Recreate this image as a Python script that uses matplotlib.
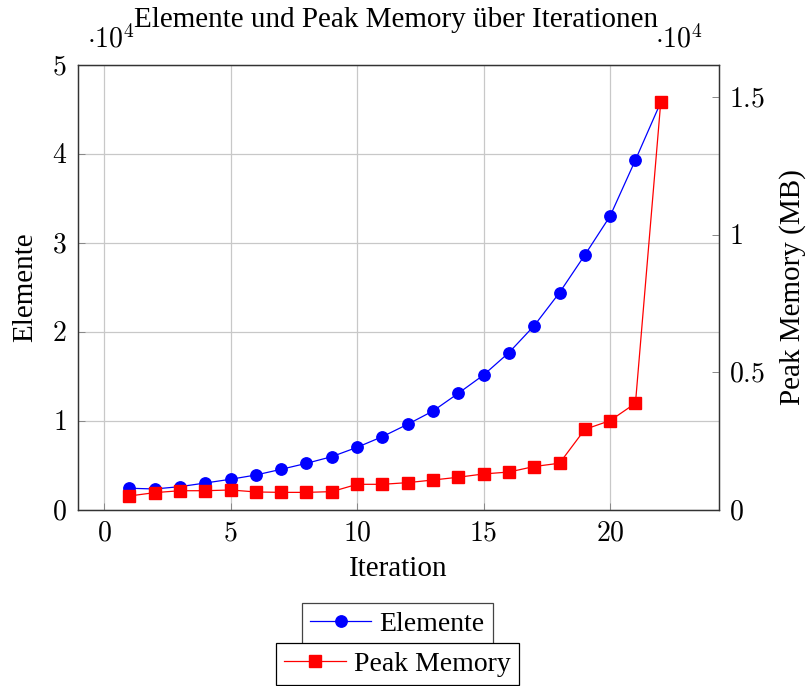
import matplotlib
matplotlib.use('Agg')
import matplotlib.pyplot as plt
from matplotlib.lines import Line2D
from matplotlib.ticker import FuncFormatter

plt.rcParams['font.family'] = ['Liberation Serif', 'DejaVu Serif']
plt.rcParams['mathtext.fontset'] = 'cm'

# data
iterations = list(range(1, 23))
elemente = [2440, 2360, 2620, 3030, 3450, 3930, 4570, 5240, 5990, 7040, 8240,
            9630, 11120, 13110, 15170, 17680, 20710, 24420, 28650, 33030, 39330, 45810]
peak_mem = [509, 630, 700, 700, 727, 655, 640, 640, 667, 933, 933,
            994, 1090, 1190, 1310, 1380, 1580, 1700, 2930, 3250, 3880, 14830]

x_ticks = [0, 5, 10, 15, 20]
left_ticks = [0, 10000, 20000, 30000, 40000, 50000]
right_ticks = [0, 5000, 10000, 15000]

fig = plt.figure(figsize=(8.09, 6.86), dpi=100)
ax = fig.add_axes([0.0964, 0.2566, 0.7923, 0.6487])
ax2 = ax.twinx()

ms = 8.2
ax.plot(iterations, elemente, color='blue', marker='o', markersize=ms, linewidth=0.9)
ax2.plot(iterations, peak_mem, color='red', marker='s', markersize=ms, linewidth=0.9)

ax.set_xlim(-1.03, 24.3)
ax.set_ylim(0, 50000)
ax2.set_ylim(0, 16180)

ax.set_xticks(x_ticks)
ax.set_yticks(left_ticks)
ax2.set_yticks(right_ticks)

ax.xaxis.set_major_formatter(FuncFormatter(lambda v, p: '$%d$' % round(v)))
ax.yaxis.set_major_formatter(FuncFormatter(lambda v, p: '$%d$' % round(v / 1e4)))
ax2.yaxis.set_major_formatter(FuncFormatter(lambda v, p: '$%g$' % (v / 1e4)))

ax.grid(True, color='#c8c8c8', linewidth=0.9)
ax.set_axisbelow(True)

for a in (ax, ax2):
    a.tick_params(direction='in', length=5, width=0.7, color='#888888', labelsize=20)
    for s in a.spines.values():
        s.set_linewidth(0.9)
        s.set_color('#333333')
ax.tick_params(axis='y', pad=8)
ax2.tick_params(axis='y', pad=7)
ax.tick_params(axis='x', pad=8)

ax.set_xlabel('Iteration', fontsize=21, labelpad=7)
ax.set_ylabel('Elemente', fontsize=21, labelpad=10)
ax2.set_ylabel('Peak Memory (MB)', fontsize=21, labelpad=10)

fig.text(0.4895, 0.9705, 'Elemente und Peak Memory über Iterationen', ha='center', va='center', fontsize=21)
fig.text(0.107, 0.943, r'$\cdot 10^4$', ha='left', va='center', fontsize=20)
fig.text(0.81, 0.943, r'$\cdot 10^4$', ha='left', va='center', fontsize=20)

h1 = Line2D([0], [0], color='blue', marker='o', markersize=ms, linewidth=0.9)
h2 = Line2D([0], [0], color='red', marker='s', markersize=ms, linewidth=0.9)
leg1 = fig.legend([h1], ['Elemente'], loc='center', bbox_to_anchor=(0.4914, 0.0905),
                  fontsize=20, fancybox=False, edgecolor='#444444', framealpha=1,
                  handlelength=2.2, handletextpad=0.3, borderpad=0.3, borderaxespad=0)
leg2 = fig.legend([h2], ['Peak Memory'], loc='upper center', bbox_to_anchor=(0.4914, 0.0627),
                  fontsize=20, fancybox=False, edgecolor='black', framealpha=1,
                  handlelength=2.2, handletextpad=0.3, borderpad=0.3, borderaxespad=0)
leg1.get_frame().set_linewidth(0.9)
leg2.get_frame().set_linewidth(0.9)

fig.savefig('out.png', dpi=100, facecolor='white')
